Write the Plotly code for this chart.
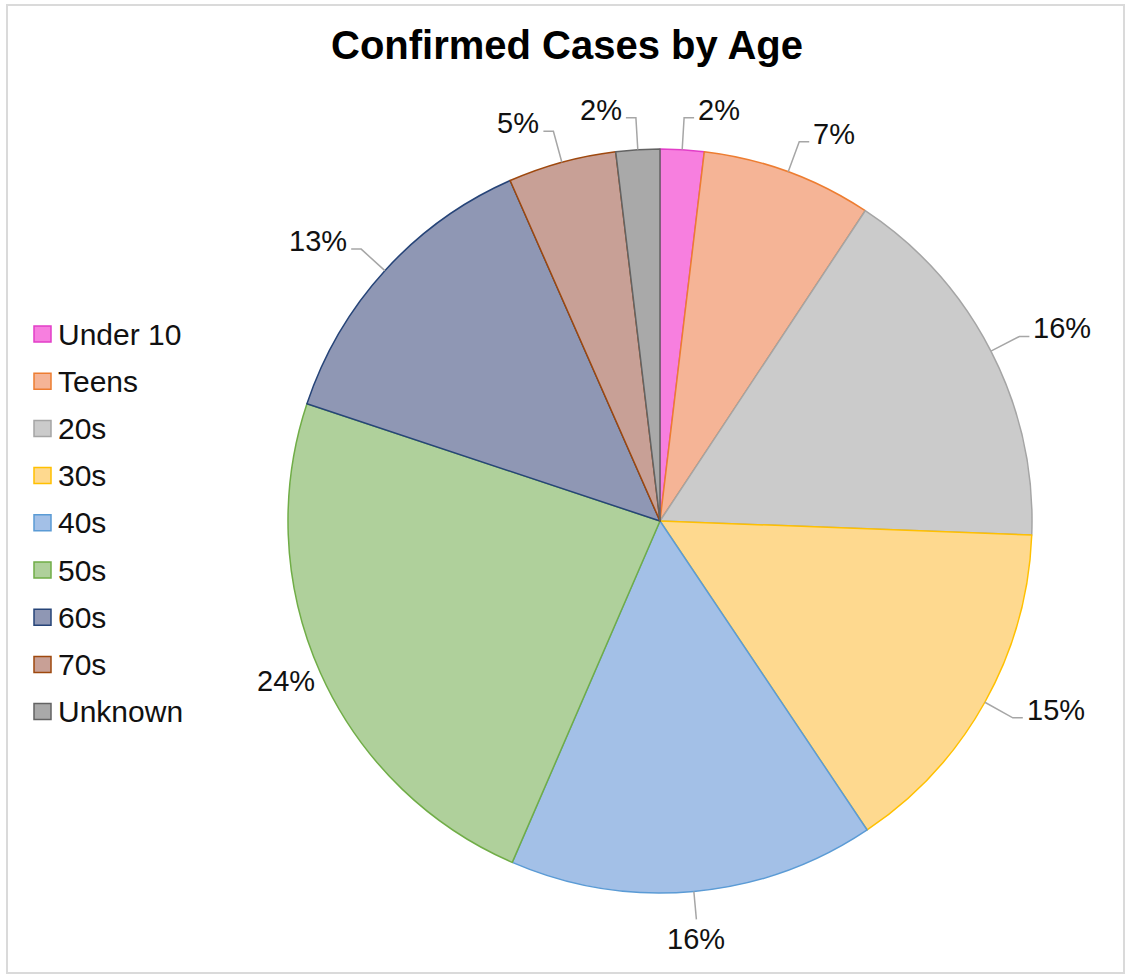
import math
import plotly.graph_objects as go

# ---- data ----
categories = ["Under 10", "Teens", "20s", "30s", "40s", "50s", "60s", "70s", "Unknown"]
shares = [1.9, 7.4, 16.3, 15.0, 15.9, 23.6, 13.3, 4.7, 1.9]
fill_colors = ["#F77FDF", "#F5B496", "#CBCBCB", "#FED98F", "#A3C0E7",
               "#AFD09B", "#8F97B4", "#C8A096", "#A9A9A9"]
edge_colors = ["#E23EC8", "#ED7D31", "#A5A5A5", "#FFC000", "#5B9BD5",
               "#70AD47", "#264478", "#9E480E", "#636363"]
title_text = "Confirmed Cases by Age"

# ---- geometry (pixels) ----
W, H = 1127, 977
cx, cy, R = 660, 521, 372


def px(x):
    return x / W


def py(y):
    return 1 - y / H


fig = go.Figure()
fig.add_trace(go.Pie(
    labels=categories,
    values=shares,
    sort=False,
    direction="clockwise",
    rotation=0,
    textinfo="none",
    hoverinfo="label+percent",
    marker=dict(colors=fill_colors, line=dict(color=edge_colors, width=1.5)),
    domain=dict(x=[px(cx - R), px(cx + R)], y=[py(cy + R), py(cy - R)]),
    showlegend=False,
))

shapes = []
annotations = []
total = sum(shares)
cum = 0.0
FONT = "Liberation Sans, Arial, sans-serif"
label_font = dict(family=FONT, size=29, color="#111111")
legend_font = dict(family=FONT, size=30, color="#111111")
line_style = dict(color="#A6A6A6", width=1.5)
for name, v in zip(categories, shares):
    mid = (cum + v / 2) / total * 2 * math.pi
    cum += v
    s, c = math.sin(mid), math.cos(mid)
    frac = v / total
    pct = f"{round(frac * 100)}%"
    ex, ey = cx + R * s, cy - R * c
    sign = 1 if s >= 0 else -1
    if frac > 0.2:
        # large slice: label sits next to the edge, no leader line
        lx, ly = cx + (R + 4) * s, cy - (R + 4) * c
        annotations.append(dict(x=px(lx), y=py(ly + 6), xref="paper", yref="paper",
                                text=pct, showarrow=False,
                                xanchor="left" if sign > 0 else "right", yanchor="middle",
                                font=label_font))
        continue
    if abs(s) < 0.15 and c < 0:
        # bottom: vertical leader, label underneath
        bx, by = cx + (R + 28) * s, cy - (R + 28) * c
        shapes.append(dict(type="line", xref="paper", yref="paper",
                           x0=px(ex), y0=py(ey), x1=px(bx), y1=py(by), line=line_style))
        annotations.append(dict(x=px(bx), y=py(by + 2), xref="paper", yref="paper",
                                text=pct, showarrow=False, xanchor="center", yanchor="top",
                                font=label_font))
        continue
    bx, by = cx + (R + 32) * s, cy - (R + 32) * c
    hx = bx + sign * 10
    shapes.append(dict(type="path", xref="paper", yref="paper",
                       path=f"M {px(ex)} {py(ey)} L {px(bx)} {py(by)} L {px(hx)} {py(by)}",
                       line=line_style))
    annotations.append(dict(x=px(hx + sign * 2), y=py(by - 8), xref="paper", yref="paper",
                            text=pct, showarrow=False,
                            xanchor="left" if sign > 0 else "right", yanchor="middle",
                            font=label_font))

# ---- manual legend ----
leg_x0, leg_y0, leg_step, box = 34, 334, 47.2, 16
for i, (name, fc, ec) in enumerate(zip(categories, fill_colors, edge_colors)):
    yc = leg_y0 + i * leg_step
    shapes.append(dict(type="rect", xref="paper", yref="paper",
                       x0=px(leg_x0), x1=px(leg_x0 + box + 1),
                       y0=py(yc + box / 2), y1=py(yc - box / 2),
                       fillcolor=fc, line=dict(color=ec, width=1.5)))
    annotations.append(dict(x=px(leg_x0 + box + 6), y=py(yc), xref="paper", yref="paper",
                            text=name, showarrow=False, xanchor="left", yanchor="middle",
                            font=legend_font))

# ---- frame ----
shapes.append(dict(type="rect", xref="paper", yref="paper",
                   x0=px(7), x1=px(1124), y0=py(973), y1=py(5),
                   line=dict(color="#DADADA", width=2), fillcolor="rgba(0,0,0,0)", layer="below"))

annotations.append(dict(x=px(567), y=py(45), xref="paper", yref="paper",
                        text=f"<b>{title_text}</b>", showarrow=False,
                        xanchor="center", yanchor="middle",
                        font=dict(family=FONT, size=40, color="#000000")))

fig.update_layout(
    width=W, height=H,
    margin=dict(l=0, r=0, t=0, b=0),
    paper_bgcolor="white",
    plot_bgcolor="white",
    shapes=shapes,
    annotations=annotations,
)

fig.write_html("out.html",
               config={"displayModeBar": False},
               post_script="document.body.style.margin='0px';document.body.style.overflow='hidden';")
